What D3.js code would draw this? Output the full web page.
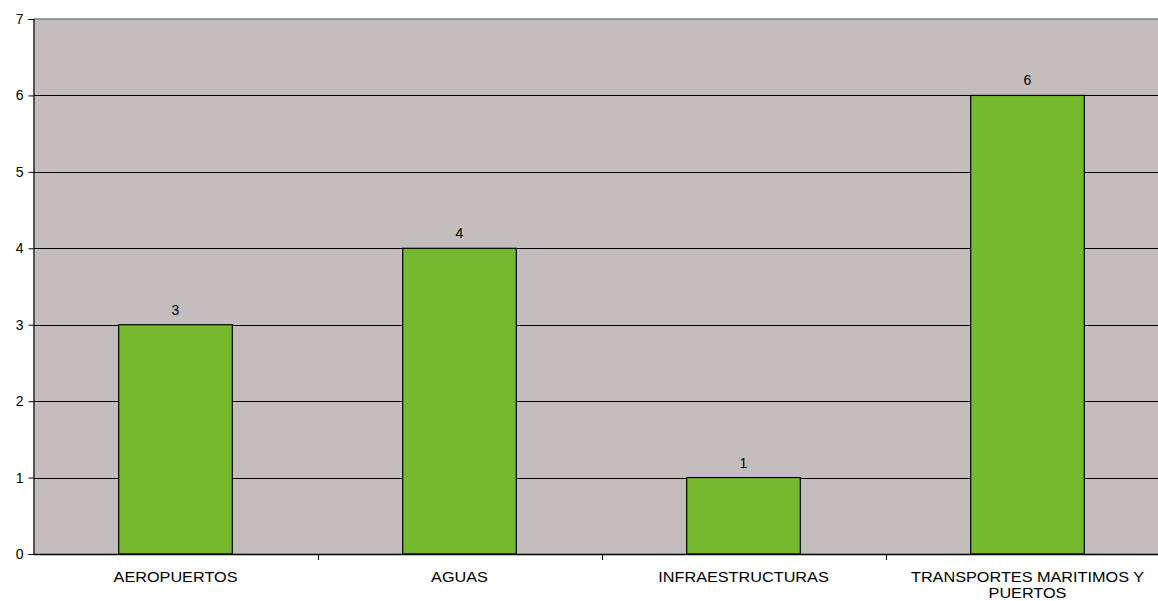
<!DOCTYPE html>
<html><head><meta charset="utf-8">
<script src="https://cdn.jsdelivr.net/npm/d3@7"></script>
<style>body{margin:0;background:#fff}svg{display:block}text{font-family:"Liberation Sans",Arial,sans-serif}</style>
</head><body><svg id="c" width="1158" height="601"></svg>
<script>
const categories = ["AEROPUERTOS","AGUAS","INFRAESTRUCTURAS","TRANSPORTES MARITIMOS Y|PUERTOS"];
const values = [3,4,1,6];
const yTicks = [0,1,2,3,4,5,6,7];

const svg = d3.select("#c");
const m = {l:33.5, t:19, r:1169.5, b:554};
const x = d3.scaleBand().domain(categories).range([m.l, m.r]).paddingInner(0.6).paddingOuter(0.3);
const y = d3.scaleLinear().domain([0,7]).range([m.b, m.t]);

svg.append("rect").attr("x",m.l).attr("y",m.t).attr("width",m.r-m.l).attr("height",m.b-m.t).attr("fill","#c3bdbd");
svg.append("line").attr("x1",m.l).attr("x2",m.r).attr("y1",m.t).attr("y2",m.t).attr("stroke","#808080").attr("stroke-width",1.5);

svg.selectAll(".grid").data(yTicks.filter(d=>d>0 && d<7)).enter().append("line")
  .attr("x1",m.l).attr("x2",m.r).attr("y1",d=>Math.round(y(d))+0.5).attr("y2",d=>Math.round(y(d))+0.5)
  .attr("stroke","#000").attr("stroke-width",1);

svg.selectAll(".bar").data(values).enter().append("rect")
  .attr("x",(d,i)=>x(categories[i])).attr("width",x.bandwidth())
  .attr("y",d=>y(d)).attr("height",d=>y(0)-y(d))
  .attr("fill","#76b82e").attr("stroke","#000").attr("stroke-width",1.2);

svg.selectAll(".vl").data(values).enter().append("text")
  .attr("x",(d,i)=>x(categories[i])+x.bandwidth()/2).attr("y",d=>y(d)-10)
  .attr("text-anchor","middle").attr("font-size",14).attr("fill","#000").text(d=>d);

// axes
const yAxis = d3.axisLeft(y).tickValues(yTicks).tickSize(5).tickPadding(5).tickFormat(d3.format("d"));
const gy = svg.append("g").attr("transform",`translate(${m.l},0)`).call(yAxis);
gy.select(".domain").attr("stroke","#000").attr("stroke-width",1.2);
gy.selectAll("text").attr("font-size",14).attr("fill","#000").attr("font-family","Liberation Sans, Arial, sans-serif");

svg.append("line").attr("x1",m.l).attr("x2",m.r).attr("y1",m.b+0.5).attr("y2",m.b+0.5).attr("stroke","#000").attr("stroke-width",1.5);
const bounds = categories.map((c,i)=>m.l + i*(m.r-m.l)/categories.length).concat([m.r]);
svg.selectAll(".xt").data(bounds.slice(1,-1)).enter().append("line")
  .attr("x1",d=>Math.round(d)+0.5).attr("x2",d=>Math.round(d)+0.5).attr("y1",m.b).attr("y2",m.b+6).attr("stroke","#000");

categories.forEach((c,i)=>{
  const lines = c.split("|");
  const cx = x(c)+x.bandwidth()/2;
  const t = svg.append("text").attr("transform",`translate(${cx},582) scale(1.16,1)`).attr("text-anchor","middle")
    .attr("font-size",14).attr("fill","#000");
  lines.forEach((l,j)=>t.append("tspan").attr("x",0).attr("dy",j?16:0).text(l));
});
</script></body></html>
